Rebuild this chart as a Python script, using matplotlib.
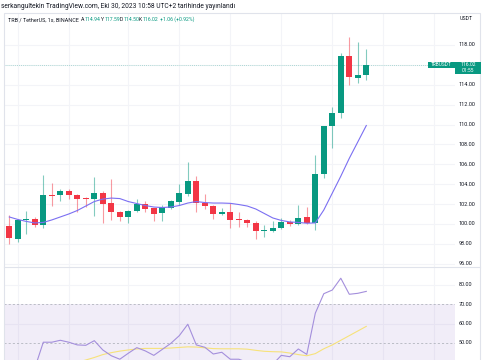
import matplotlib
matplotlib.use('Agg')
import matplotlib.pyplot as plt
from matplotlib.patches import Rectangle
from matplotlib.transforms import Bbox, TransformedBbox, blended_transform_factory

plt.rcParams['font.family'] = ['Roboto', 'DejaVu Sans']

# ---------------- data ----------------
opens = [99.79, 98.48, 100.35, 100.5, 99.9, 102.9, 102.9, 103.3, 102.9, 102.6,
         102.5, 103.1, 102.1, 101.2, 100.7, 101.3, 102.0, 101.6, 101.1, 101.6,
         102.2, 103.0, 104.3, 102.1, 101.8, 101.0, 101.2, 100.5, 100.4, 100.1,
         99.3, 99.3, 99.6, 100.2, 100.0, 100.7, 100.1, 105.0, 109.85, 111.2,
         116.9, 114.7, 114.94]
highs = [100.9, 100.45, 101.3, 100.7, 104.9, 104.1, 103.5, 103.5, 103.0, 102.7,
         104.7, 103.3, 104.5, 101.3, 101.4, 102.5, 102.3, 101.6, 101.9, 102.4,
         104.0, 106.2, 104.8, 103.0, 101.9, 101.6, 102.1, 101.2, 100.5, 100.3,
         99.9, 100.3, 100.6, 100.4, 101.9, 101.7, 106.9, 109.9, 111.8, 117.2,
         118.8, 118.3, 117.59]
lows = [98.0, 98.2, 99.0, 99.7, 99.6, 101.8, 102.3, 102.5, 101.2, 101.7,
        100.8, 100.1, 100.4, 100.3, 100.1, 101.2, 101.2, 100.3, 100.3, 101.5,
        101.9, 102.8, 101.2, 101.5, 100.5, 100.9, 99.6, 99.7, 99.7, 98.5,
        98.7, 99.2, 99.5, 99.8, 99.9, 100.0, 99.4, 104.6, 107.6, 110.7,
        114.0, 114.2, 114.50]
closes = [98.58, 100.4, 100.45, 99.9, 102.9, 102.8, 103.3, 102.9, 102.5, 102.5,
          103.1, 102.0, 101.2, 100.7, 101.3, 102.0, 101.5, 101.0, 101.7, 102.3,
          103.1, 104.3, 102.1, 101.8, 101.0, 101.2, 100.4, 100.35, 100.1, 99.3,
          99.4, 99.6, 100.2, 100.0, 100.6, 100.1, 105.0, 109.85, 111.2, 116.9,
          114.8, 115.0, 116.02]
ma_price = [100.7, 100.45, 100.25, 100.1, 100.15, 100.4, 100.7, 101.0, 101.35, 101.8,
            102.25, 102.5, 102.6, 102.55, 102.25, 102.05, 101.85, 101.7, 101.65, 101.7,
            101.85, 102.1, 102.25, 102.15, 102.1, 102.1, 102.07, 101.95, 101.8, 101.5,
            101.05, 100.6, 100.35, 100.2, 100.15, 100.07, 100.1, 101.4, 103.1, 104.8,
            106.6, 108.25, 109.9]
rsi = [35, 40, 40.5, 37, 50.4, 50.4, 51.4, 50.4, 49, 48.8,
       51.2, 46.4, 43.4, 41.6, 44.7, 47.6, 45.9, 43.6, 46.7, 49.8,
       53.8, 59.7, 49, 47.8, 44.3, 45.2, 41.6, 41.6, 40, 38,
       34, 39, 43.6, 42.9, 46.9, 44.1, 65.4, 75.5, 77.4, 83.5,
       75.2, 75.7, 76.7]
rsi_ma = [35, 35.5, 36, 36.5, 37, 37.5, 38.3, 39, 40, 41.2,
          42.5, 44.0, 45.0, 45.8, 46.4, 46.9, 47.2, 47.2, 47.2, 47.4,
          47.7, 48.0, 47.9, 47.5, 47.1, 47.0, 47.0, 47.0, 46.8, 46.2,
          45.7, 45.5, 45.4, 44.8, 44.0, 43.4, 44.5, 47.0, 49.0, 51.4,
          53.8, 56.2, 58.6]
price_ticks = [96, 98, 100, 102, 104, 106, 108, 110, 112, 114, 116, 118]
rsi_ticks = [50, 60, 70, 80]
rsi_band = (30, 70)
rsi_mid = 50
vgrid_idx = [1, 7, 14, 20, 26, 32, 38, 44, 50]
last_price = 116.02
countdown = "01:55"
symbol_tag = "TRBUSDT"
currency = "USDT"
title_line = "serkangultekin TradingView.com, Eki 30, 2023 10:58 UTC+2 tarihinde yayınlandı"
legend_name = "TRB / TetherUS, 1s, BINANCE"
ohlc_labels = ["A", "Y", "D", "K"]
ohlc_values = ["114.94", "117.59", "114.50", "116.02"]
change_text = "+1.06 (+0.92%)"

# ---------------- styling ----------------
GREEN = '#089981'
RED = '#f23645'
TXT = '#131722'
GRID = '#f3f4f8'
BORDER = '#e0e3eb'

W, H = 485, 360
fig = plt.figure(figsize=(W / 100, H / 100), dpi=100)
fig.patch.set_facecolor('white')

def fx(x):
    return x / W

def fy(y):
    return 1 - y / H

L, R = 4, 455
top_main, bot_main = 13, 267
ax = fig.add_axes([fx(L), fy(bot_main), (R - L) / W, (bot_main - top_main) / H])
ax2 = fig.add_axes([fx(L), 0, (R - L) / W, (H - bot_main) / H])

x0_px, dx_px = 9.3, 8.5
xlim = ((L - x0_px) / dx_px, (R - x0_px) / dx_px)
ppd = 9.94  # px per dollar
ylim_main = (118 - (bot_main - 45) / ppd, 118 + (45 - top_main) / ppd)
rpp = 1.933  # px per rsi point
ylim_rsi = (80 - (H - 285) / rpp, 80 + (285 - bot_main) / rpp)

for a in (ax, ax2):
    a.set_xlim(*xlim)
    a.set_xticks([])
    a.set_yticks([])
    for s in a.spines.values():
        s.set_visible(False)
    a.set_facecolor('white')
    for g in vgrid_idx:
        a.axvline(g, color=GRID, lw=0.8, zorder=0)

ax.set_ylim(*ylim_main)
ax2.set_ylim(*ylim_rsi)

for p in price_ticks:
    ax.axhline(p, color=GRID, lw=0.8, zorder=0)
for r in [40, 60, 80]:
    ax2.axhline(r, color=GRID, lw=0.8, zorder=0)

# candles
idx = list(range(len(opens)))
for i in idx:
    o, h, l, c = opens[i], highs[i], lows[i], closes[i]
    col = GREEN if c >= o else RED
    ax.vlines(i, l, h, color=col, lw=0.8, alpha=0.5, zorder=2)
    bot = min(o, c)
    ht = max(abs(c - o), 0.12)
    ax.bar(i, ht, bottom=bot, width=0.72, color=col, edgecolor='none', zorder=3)

ax.plot(idx, ma_price, color='#7b6ff2', lw=0.8, zorder=4)
ax.axhline(last_price, color=GREEN, lw=0.6, ls=(0, (1, 1.5)), alpha=0.4, zorder=1)

# RSI pane
ax2.axhspan(rsi_band[0], rsi_band[1], color='#7e57c2', alpha=0.1, lw=0, zorder=0)
for lv in (rsi_band[1], rsi_mid, rsi_band[0]):
    ax2.axhline(lv, color='#b2b5be', lw=0.6, ls=(0, (2.5, 2.5)), zorder=1)
ax2.plot(idx, rsi, color='#a48fdc', lw=0.8, zorder=3)
ax2.plot(idx, rsi_ma, color='#f7e27a', lw=0.8, zorder=2)

# price scale labels
lab_x = fx(459)
clip_main = TransformedBbox(Bbox([[fx(L), fy(bot_main)], [1, fy(top_main)]]), fig.transFigure)
tr_main = blended_transform_factory(fig.transFigure, ax.transData)
for p in price_ticks:
    t = ax.text(lab_x, p, f"{p:.2f}", transform=tr_main, ha='left', va='center',
                fontsize=4.0, color=TXT)
    t.set_clip_box(clip_main)
    t.set_clip_on(True)
tr_rsi = blended_transform_factory(fig.transFigure, ax2.transData)
for r in rsi_ticks:
    ax2.text(lab_x, r, f"{r:.2f}", transform=tr_rsi, ha='left', va='center',
             fontsize=4.0, color=TXT, clip_on=False)

# frame and separators
fig.add_artist(Rectangle((fx(L), fy(H + 2)), (480 - L) / W, (H + 2 - top_main) / H,
                         transform=fig.transFigure, fill=False, edgecolor=BORDER, lw=0.8))
fig.add_artist(plt.Line2D([fx(L), fx(480)], [fy(bot_main), fy(bot_main)],
                          transform=fig.transFigure, color=BORDER, lw=0.8))

# last price labels
fig.add_artist(Rectangle((fx(428), fy(68)), 27 / W, 6 / H, transform=fig.transFigure,
                         facecolor=GREEN, edgecolor='none'))
fig.add_artist(Rectangle((fx(455), fy(74)), 26 / W, 12 / H, transform=fig.transFigure,
                         facecolor=GREEN, edgecolor='none'))
fig.text(fx(441.5), fy(65), symbol_tag, color='white', fontsize=3.4, ha='center', va='center')
fig.text(fx(468), fy(65), f"{last_price:.2f}", color='white', fontsize=3.6, ha='center', va='center')
fig.text(fx(468), fy(71), countdown, color='white', fontsize=3.6, ha='center', va='center')

fig.text(fx(460), fy(19), currency, color=TXT, fontsize=3.8, ha='left', va='center')

# header texts
renderer = fig.canvas.get_renderer()

t1 = fig.text(fx(1), fy(7), title_line, color=TXT, fontsize=4, ha='left', va='center')
w1 = t1.get_window_extent(renderer).width
t1.set_fontsize(4 * 230 / w1)

t2 = fig.text(fx(8), fy(19.5), legend_name, color=TXT, fontsize=4, ha='left', va='center')
w2 = t2.get_window_extent(renderer).width
fs2 = 4 * 70 / w2
t2.set_fontsize(fs2)
fsv = fs2 * 0.95

lab_pos = [81, 101, 120, 139]
val_pos = [85, 105, 124, 143]
for lab, val, lp, vp in zip(ohlc_labels, ohlc_values, lab_pos, val_pos):
    fig.text(fx(lp), fy(19.5), lab, color=TXT, fontsize=fsv, ha='left', va='center')
    fig.text(fx(vp), fy(19.5), val, color=GREEN, fontsize=fsv, ha='left', va='center')
fig.text(fx(160), fy(19.5), change_text, color=GREEN, fontsize=fsv, ha='left', va='center')

fig.savefig('out.png', dpi=100, facecolor='white')
